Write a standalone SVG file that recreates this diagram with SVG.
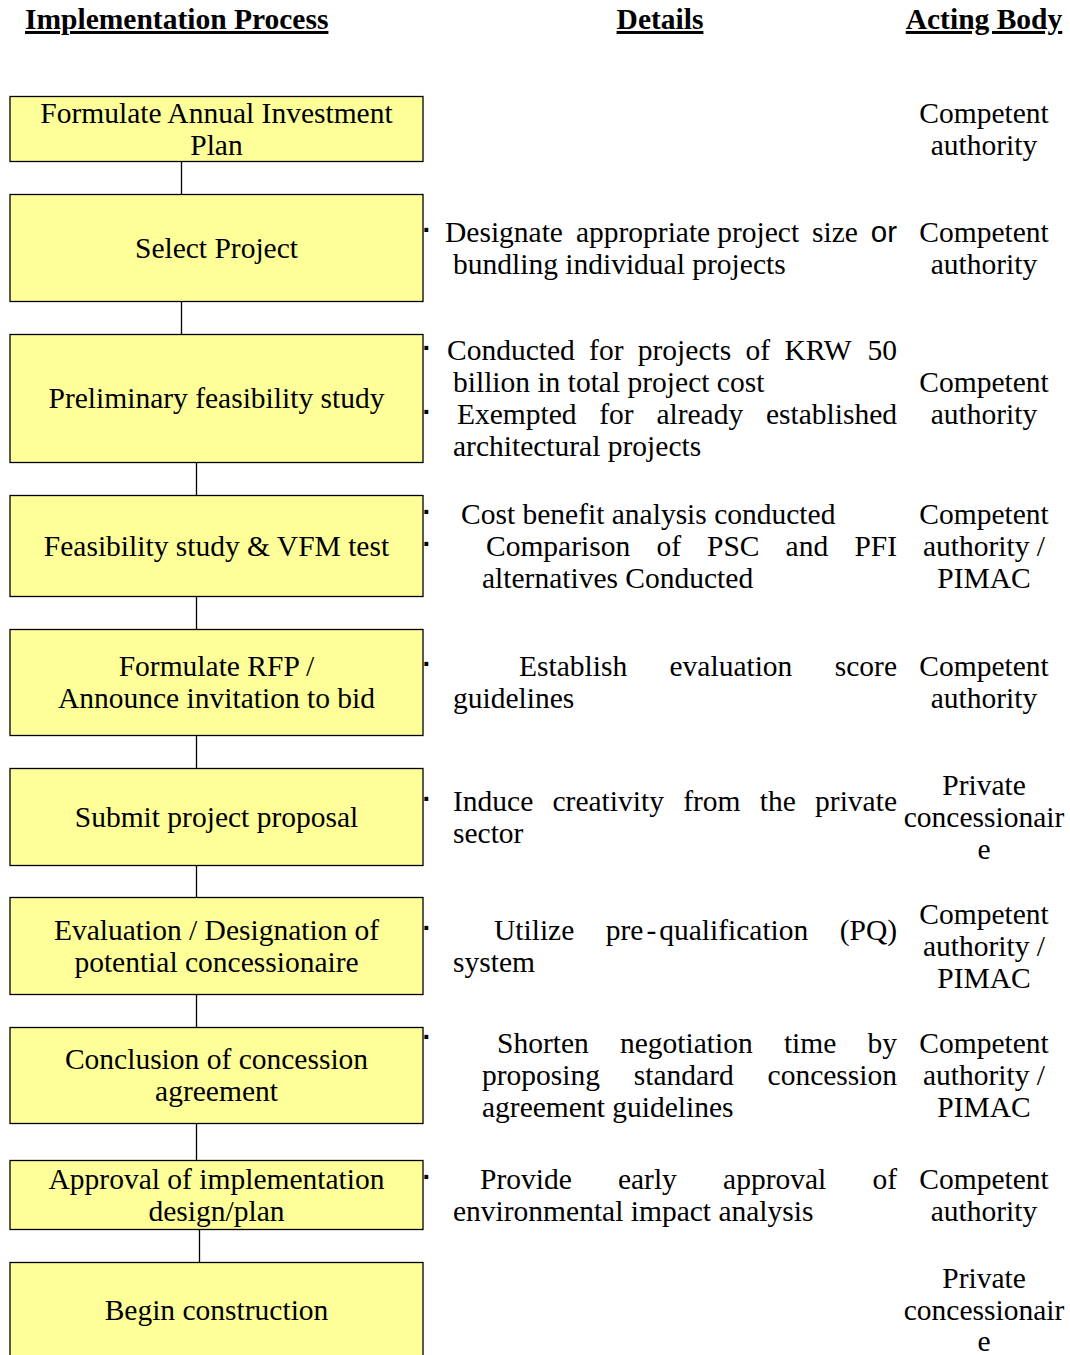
<svg xmlns="http://www.w3.org/2000/svg" width="1070" height="1355" viewBox="0 0 1070 1355">
<style>
.bg{fill:#fff}
.box{fill:#FFFF99;stroke:#000;stroke-width:1.3}
.t{font-family:"Liberation Serif","Times New Roman",serif;font-size:29.5px;fill:#000}
.c{text-anchor:middle}
.h{font-weight:bold;text-decoration:underline}
.s{font-family:"Liberation Sans",Arial,sans-serif}
.b{font-family:"Liberation Sans",Arial,sans-serif;font-weight:bold;font-size:27px;fill:#000}
.conn line{stroke:#000;stroke-width:1.3}
</style>
<rect class="bg" x="0" y="0" width="1070" height="1355"/>
<g id="headers" class="t h">
<text x="25" y="29">Implementation Process</text>
<text x="660" y="29" class="c">Details</text>
<text x="984" y="29" class="c">Acting Body</text>
</g>
<g id="connectors" class="conn">
<line x1="181.5" y1="161" x2="181.5" y2="194"/>
<line x1="181.5" y1="301" x2="181.5" y2="334"/>
<line x1="196.5" y1="462" x2="196.5" y2="495"/>
<line x1="196.5" y1="596" x2="196.5" y2="629"/>
<line x1="196.5" y1="735" x2="196.5" y2="768"/>
<line x1="196.5" y1="865" x2="196.5" y2="897"/>
<line x1="196.5" y1="994" x2="196.5" y2="1027"/>
<line x1="196.5" y1="1123" x2="196.5" y2="1160"/>
<line x1="199.5" y1="1229" x2="199.5" y2="1262"/>
</g>
<g id="n1">
<rect class="box" x="10" y="96.5" width="413" height="65"/>
<text class="t c" x="216.5" y="123">Formulate Annual Investment</text>
<text class="t c" x="216.5" y="155">Plan</text>
<text class="t c" x="984" y="123">Competent</text>
<text class="t c" x="984" y="155">authority</text>
</g>
<g id="n2">
<rect class="box" x="10" y="194.5" width="413" height="107"/>
<text class="t c" x="216.5" y="258">Select Project</text>
<text class="b" x="422.5" y="238.6">·</text>
<text class="t" y="242"><tspan x="445">Designate</tspan><tspan x="575.9">appropriate</tspan><tspan x="717.2">project</tspan><tspan x="812">size</tspan><tspan x="870.8" class="s">or</tspan></text>
<text class="t" x="453" y="274">bundling individual projects</text>
<text class="t c" x="984" y="242">Competent</text>
<text class="t c" x="984" y="274">authority</text>
</g>
<g id="n3">
<rect class="box" x="10" y="334.5" width="413" height="128"/>
<text class="t c" x="216.5" y="408">Preliminary feasibility study</text>
<text class="b" x="422.5" y="356.6">·</text>
<text class="t" y="360"><tspan x="447">Conducted</tspan><tspan x="589.1">for</tspan><tspan x="637.8">projects</tspan><tspan x="745.5">of</tspan><tspan x="784.4">KRW</tspan><tspan x="867.5">50</tspan></text>
<text class="t" x="453" y="392">billion in total project cost</text>
<text class="b" x="422.5" y="420.6">·</text>
<text class="t" y="424"><tspan x="457">Exempted</tspan><tspan x="599.3">for</tspan><tspan x="656.4">already</tspan><tspan x="765.9">established</tspan></text>
<text class="t" x="453" y="456">architectural projects</text>
<text class="t c" x="984" y="392">Competent</text>
<text class="t c" x="984" y="424">authority</text>
</g>
<g id="n4">
<rect class="box" x="10" y="495.5" width="413" height="101"/>
<text class="t c" x="216.5" y="556">Feasibility study &amp; VFM test</text>
<text class="b" x="422.5" y="520.6">·</text>
<text class="t" x="461" y="524">Cost benefit analysis conducted</text>
<text class="b" x="422.5" y="552.6">·</text>
<text class="t" y="556"><tspan x="486">Comparison</tspan><tspan x="656.4">of</tspan><tspan x="707">PSC</tspan><tspan x="785.6">and</tspan><tspan x="854.4">PFI</tspan></text>
<text class="t" x="482" y="588">alternatives Conducted</text>
<text class="t c" x="984" y="524">Competent</text>
<text class="t c" x="984" y="556">authority /</text>
<text class="t c" x="984" y="588">PIMAC</text>
</g>
<g id="n5">
<rect class="box" x="10" y="629.5" width="413" height="106"/>
<text class="t c" x="216.5" y="676">Formulate RFP /</text>
<text class="t c" x="216.5" y="708">Announce invitation to bid</text>
<text class="b" x="422.5" y="672.6">·</text>
<text class="t" y="676"><tspan x="519">Establish</tspan><tspan x="669.5">evaluation</tspan><tspan x="834.8">score</tspan></text>
<text class="t" x="453" y="708">guidelines</text>
<text class="t c" x="984" y="676">Competent</text>
<text class="t c" x="984" y="708">authority</text>
</g>
<g id="n6">
<rect class="box" x="10" y="768.5" width="413" height="97"/>
<text class="t c" x="216.5" y="827">Submit project proposal</text>
<text class="b" x="422.5" y="807.6">·</text>
<text class="t" y="811"><tspan x="453">Induce</tspan><tspan x="552.5">creativity</tspan><tspan x="683.2">from</tspan><tspan x="759.8">the</tspan><tspan x="815.1">private</tspan></text>
<text class="t" x="453" y="843">sector</text>
<text class="t c" x="984" y="795">Private</text>
<text class="t c" x="984" y="827">concessionair</text>
<text class="t c" x="984" y="859">e</text>
</g>
<g id="n7">
<rect class="box" x="10" y="897.5" width="413" height="97"/>
<text class="t c" x="216.5" y="940">Evaluation / Designation of</text>
<text class="t c" x="216.5" y="972">potential concessionaire</text>
<text class="b" x="422.5" y="936.6">·</text>
<text class="t" y="940"><tspan x="494">Utilize</tspan><tspan x="605.7">pre</tspan><tspan x="646.4">-</tspan><tspan x="659.2">qualification</tspan><tspan x="839.7">(PQ)</tspan></text>
<text class="t" x="453" y="972">system</text>
<text class="t c" x="984" y="924">Competent</text>
<text class="t c" x="984" y="956">authority /</text>
<text class="t c" x="984" y="988">PIMAC</text>
</g>
<g id="n8">
<rect class="box" x="10" y="1027.5" width="413" height="96"/>
<text class="t c" x="216.5" y="1069">Conclusion of concession</text>
<text class="t c" x="216.5" y="1101">agreement</text>
<text class="b" x="422.5" y="1046">·</text>
<text class="t" y="1053"><tspan x="497">Shorten</tspan><tspan x="620">negotiation</tspan><tspan x="783.9">time</tspan><tspan x="867.5">by</tspan></text>
<text class="t" y="1085"><tspan x="482">proposing</tspan><tspan x="633.8">standard</tspan><tspan x="767.6">concession</tspan></text>
<text class="t" x="482" y="1117">agreement guidelines</text>
<text class="t c" x="984" y="1053">Competent</text>
<text class="t c" x="984" y="1085">authority /</text>
<text class="t c" x="984" y="1117">PIMAC</text>
</g>
<g id="n9">
<rect class="box" x="10" y="1160.5" width="413" height="69"/>
<text class="t c" x="216.5" y="1189">Approval of implementation</text>
<text class="t c" x="216.5" y="1221">design/plan</text>
<text class="b" x="422.5" y="1185.6">·</text>
<text class="t" y="1189"><tspan x="480">Provide</tspan><tspan x="617.9">early</tspan><tspan x="723.1">approval</tspan><tspan x="872.4">of</tspan></text>
<text class="t" x="453" y="1221">environmental impact analysis</text>
<text class="t c" x="984" y="1189">Competent</text>
<text class="t c" x="984" y="1221">authority</text>
</g>
<g id="n10">
<rect class="box" x="10" y="1262.5" width="413" height="110"/>
<text class="t c" x="216.5" y="1320">Begin construction</text>
<text class="t c" x="984" y="1288">Private</text>
<text class="t c" x="984" y="1320">concessionair</text>
<text class="t c" x="984" y="1351">e</text>
</g>
</svg>
